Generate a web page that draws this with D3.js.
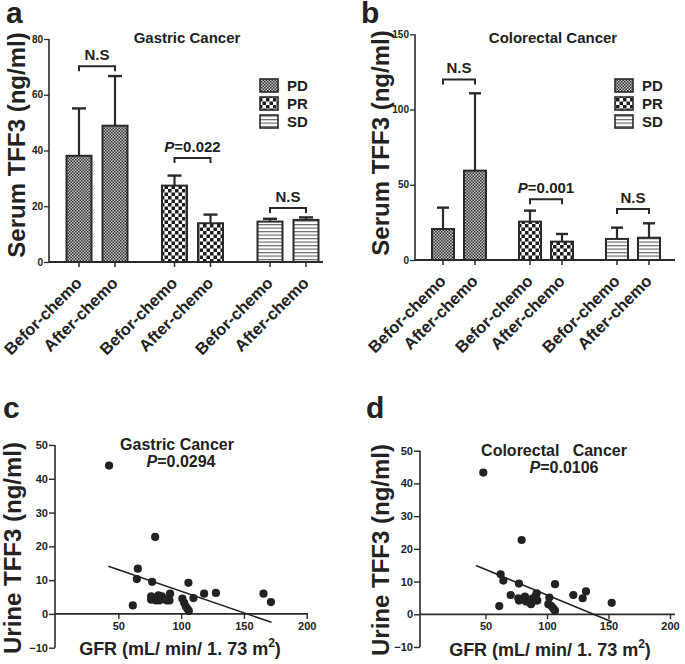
<!DOCTYPE html>
<html><head><meta charset="utf-8">
<script src="https://cdn.jsdelivr.net/npm/d3@7"></script>
<style>
body{margin:0;background:#fff}
text{font-family:Arial,"Liberation Sans",sans-serif;fill:#222}
</style>
</head><body>
<svg id="chart" width="685" height="664"></svg>
<script>
// ---------- DATA ----------
const groups = ["PD", "PR", "SD"];
const times = ["Befor-chemo", "After-chemo"];
const gastricMean = [38.1, 48.9, 27.4, 13.9, 14.5, 15.1];
const gastricSD = [17.0, 17.8, 3.6, 3.1, 1.0, 0.9];
const colorectalMean = [20.6, 59.4, 25.5, 12.2, 14.0, 14.8];
const colorectalSD = [14.2, 51.4, 7.3, 5.1, 7.5, 9.6];
const gastricYTicks = [0, 20, 40, 60, 80];
const colorectalYTicks = [0, 50, 100, 150];
const gastricBrackets = [
  {group: "PD", y: 70.2, label: "N.S"},
  {group: "PR", y: 37.3, label: "P=0.022"},
  {group: "SD", y: 19.4, label: "N.S"}
];
const colorectalBrackets = [
  {group: "PD", y: 120, label: "N.S"},
  {group: "PR", y: 40.3, label: "P=0.001"},
  {group: "SD", y: 33.9, label: "N.S"}
];

const gastricGFR = [42.6, 79.3, 65.5, 64.7, 76.9, 105.8, 61.5, 76.1, 76.1, 79.3, 81.9, 82.7, 85.9, 88.6, 91.2, 90.7, 101, 102.4, 103.7, 105, 106.1, 109.8, 118.3, 127.7, 165.6, 171.5, 80, 84.6];
const gastricTFF3 = [43.9, 22.8, 13.4, 10.3, 9.5, 9.2, 2.5, 5.2, 4.2, 4.5, 5.5, 4.0, 4.5, 4.0, 6.0, 4.0, 4.5, 3.3, 2.2, 1.5, 0.9, 4.7, 6.0, 6.2, 6.0, 3.5, 4.0, 5.2];
const gastricFitX = [42, 172];
const gastricFitY = [14.1, -2.5];

const colorectalGFR = [48.2, 79.4, 62.3, 64.5, 77.2, 106.5, 61.2, 70.5, 76.7, 77.2, 82.1, 82.9, 87, 88.4, 91, 92.1, 90.2, 101.9, 101.1, 103.3, 105.1, 106.5, 121.4, 129, 131.7, 152.6, 91.6];
const colorectalTFF3 = [43.3, 22.7, 12.2, 10.3, 9.4, 9.2, 2.5, 5.9, 4.9, 4.2, 5.4, 3.9, 3.1, 4.9, 5.7, 4.2, 4.2, 5.1, 3.1, 2.6, 1.8, 1.1, 5.9, 4.9, 7.0, 3.5, 6.4];
const colorectalFitX = [42.3, 152.6];
const colorectalFitY = [14.9, -2.3];

const scatterYTicks = [-10, 0, 10, 20, 30, 40, 50];
const scatterXTicks = [50, 100, 150, 200];

// ---------- SETUP ----------
const svg = d3.select("#chart");
const INK = "#2a2a2a";
const defs = svg.append("defs");
const pd = defs.append("pattern").attr("id", "pat-PD").attr("patternUnits", "userSpaceOnUse").attr("width", 3).attr("height", 3);
pd.append("rect").attr("width", 3).attr("height", 3).attr("fill", "#c4c4c4");
pd.append("rect").attr("width", 1.5).attr("height", 1.5).attr("fill", "#333");
pd.append("rect").attr("x", 1.5).attr("y", 1.5).attr("width", 1.5).attr("height", 1.5).attr("fill", "#333");
const pr = defs.append("pattern").attr("id", "pat-PR").attr("patternUnits", "userSpaceOnUse").attr("width", 7).attr("height", 7);
pr.append("rect").attr("width", 7).attr("height", 7).attr("fill", "#fff");
pr.append("rect").attr("width", 3.5).attr("height", 3.5).attr("fill", "#1e1e1e");
pr.append("rect").attr("x", 3.5).attr("y", 3.5).attr("width", 3.5).attr("height", 3.5).attr("fill", "#1e1e1e");
const sd = defs.append("pattern").attr("id", "pat-SD").attr("patternUnits", "userSpaceOnUse").attr("width", 4).attr("height", 3.5);
sd.append("rect").attr("width", 4).attr("height", 3.5).attr("fill", "#fff");
sd.append("rect").attr("width", 4).attr("height", 1.2).attr("fill", "#6a6a6a");

function addLabel(g, parts, x, y, size, anchor) {
  const t = g.append("text").attr("x", x).attr("y", y).attr("text-anchor", anchor || "middle")
    .attr("font-size", size).attr("font-weight", "bold");
  parts.forEach(p => {
    const s = t.append("tspan").text(p.text);
    if (p.italic) s.attr("font-style", "italic");
  });
  return t;
}
function splitP(label) {
  if (label.startsWith("P=")) return [{text: "P", italic: true}, {text: label.slice(1)}];
  return [{text: label}];
}

// ---------- BAR PANELS ----------
function barPanel(cfg) {
  const g = svg.append("g");
  const y = d3.scaleLinear().domain(cfg.yDomain).range(cfg.yRange);
  const gx = d3.scalePoint().domain(groups).range(cfg.groupRange);
  const tx = d3.scalePoint().domain(times).range([-cfg.inner, cfg.inner]);
  const rows = [];
  groups.forEach((grp, gi) => times.forEach((tm, ti) => {
    const i = gi * 2 + ti;
    rows.push({grp, tm, mean: cfg.mean[i], sd: cfg.sd[i], cx: gx(grp) + tx(tm)});
  }));
  const y0 = y(0);
  rows.forEach(r => {
    g.append("line").attr("x1", r.cx).attr("x2", r.cx).attr("y1", y(r.mean)).attr("y2", y(r.mean + r.sd))
      .attr("stroke", INK).attr("stroke-width", 2.2);
    g.append("line").attr("x1", r.cx - cfg.cap / 2).attr("x2", r.cx + cfg.cap / 2)
      .attr("y1", y(r.mean + r.sd)).attr("y2", y(r.mean + r.sd))
      .attr("stroke", INK).attr("stroke-width", 2.4);
  });
  g.selectAll("rect.bar").data(rows).join("rect").attr("class", "bar")
    .attr("x", d => d.cx - cfg.bw / 2).attr("width", cfg.bw)
    .attr("y", d => y(d.mean)).attr("height", d => y0 - y(d.mean))
    .attr("fill", d => `url(#pat-${d.grp})`).attr("stroke", INK).attr("stroke-width", 2);
  const ya = g.append("g").attr("transform", `translate(${cfg.axisX},0)`)
    .call(d3.axisLeft(y).tickValues(cfg.yTicks).tickSize(5).tickFormat(d3.format("d")));
  ya.select(".domain").remove();
  ya.selectAll(".tick line").attr("stroke", INK).attr("stroke-width", 1.3);
  ya.selectAll(".tick text").attr("font-size", 10).attr("font-weight", "bold").attr("fill", INK).attr("x", -6)
    .style("font-family", "Arial,'Liberation Sans',sans-serif");
  g.append("line").attr("x1", cfg.axisX).attr("x2", cfg.axisX).attr("y1", y0).attr("y2", y(cfg.yDomain[1]))
    .attr("stroke", INK).attr("stroke-width", 1.6);
  g.append("line").attr("x1", cfg.axisX).attr("x2", cfg.axisEnd).attr("y1", y0).attr("y2", y0)
    .attr("stroke", INK).attr("stroke-width", 1.8);
  rows.forEach(r => {
    g.append("line").attr("x1", r.cx).attr("x2", r.cx).attr("y1", y0).attr("y2", y0 + 5)
      .attr("stroke", INK).attr("stroke-width", 1.5);
    g.append("text").attr("transform", `translate(${r.cx + 4},${y0 + 22}) rotate(-45)`)
      .attr("text-anchor", "end").attr("font-size", 16.5).attr("font-weight", "bold").text(r.tm);
  });
  cfg.brackets.forEach(b => {
    const x1 = gx(b.group) + tx(times[0]), x2 = gx(b.group) + tx(times[1]);
    const by = y(b.y);
    g.append("path").attr("d", `M${x1},${by + 5}V${by}H${x2}V${by + 5}`)
      .attr("fill", "none").attr("stroke", INK).attr("stroke-width", 2);
    addLabel(g, splitP(b.label), (x1 + x2) / 2, by - 6, 15);
  });
  addLabel(g, [{text: cfg.title}], cfg.titleX, 43, 15);
  groups.forEach((grp, i) => {
    const ly = cfg.legendY + i * 18;
    g.append("rect").attr("x", cfg.legendX).attr("y", ly).attr("width", 18).attr("height", 13)
      .attr("fill", `url(#pat-${grp})`).attr("stroke", INK).attr("stroke-width", 1.6);
    addLabel(g, [{text: grp}], cfg.legendX + 27, ly + 12, 15, "start");
  });
  g.append("text").attr("transform", `translate(${cfg.ylabX},${cfg.ylabY}) rotate(-90)`)
    .attr("text-anchor", "middle").attr("font-size", 24).attr("font-weight", "bold").text("Serum TFF3 (ng/ml)");
  addLabel(g, [{text: cfg.letter}], cfg.letterX, 23, 30, "start");
}

barPanel({
  mean: gastricMean, sd: gastricSD, yDomain: [0, 80], yRange: [262, 39], yTicks: gastricYTicks,
  groupRange: [97, 288], inner: 18, bw: 25, cap: 14, axisX: 49, axisEnd: 323,
  brackets: gastricBrackets, title: "Gastric Cancer", titleX: 187,
  legendX: 260, legendY: 79, ylabX: 25, ylabY: 145, letter: "a", letterX: 6
});
barPanel({
  mean: colorectalMean, sd: colorectalSD, yDomain: [0, 150], yRange: [260, 34.3], yTicks: colorectalYTicks,
  groupRange: [459, 633], inner: 16, bw: 22, cap: 12, axisX: 415, axisEnd: 675,
  brackets: colorectalBrackets, title: "Colorectal Cancer", titleX: 553,
  legendX: 615, legendY: 79, ylabX: 389, ylabY: 143, letter: "b", letterX: 361
});

// ---------- SCATTER PANELS ----------
function scatterPanel(cfg) {
  const g = svg.append("g");
  const x = d3.scaleLinear().domain([0, 200]).range(cfg.xRange);
  const y = d3.scaleLinear().domain([-10, 50]).range(cfg.yRange);
  const ya = g.append("g").attr("transform", `translate(${cfg.axisX},0)`)
    .call(d3.axisLeft(y).tickValues(scatterYTicks).tickSize(6));
  ya.select(".domain").attr("stroke", INK).attr("stroke-width", 1.6).attr("d", `M0,${y(50)}V${y(-10)}`);
  ya.selectAll(".tick line").attr("stroke", INK).attr("stroke-width", 1.4);
  ya.selectAll(".tick text").attr("font-size", 11).attr("font-weight", "bold").attr("fill", INK).attr("x", -7)
    .style("font-family", "Arial,'Liberation Sans',sans-serif");
  const xa = g.append("g").attr("transform", `translate(0,${y(0)})`)
    .call(d3.axisBottom(x).tickValues(scatterXTicks).tickSize(5));
  xa.select(".domain").attr("stroke", INK).attr("stroke-width", 1.8).attr("d", `M${cfg.axisX},0H${cfg.axisEnd}`);
  xa.selectAll(".tick line").attr("stroke", INK).attr("stroke-width", 1.4);
  xa.selectAll(".tick text").attr("font-size", 11).attr("font-weight", "bold").attr("fill", INK).attr("y", 8)
    .style("font-family", "Arial,'Liberation Sans',sans-serif");
  g.selectAll("circle").data(cfg.xs.map((v, i) => [v, cfg.ys[i]])).join("circle")
    .attr("cx", d => x(d[0])).attr("cy", d => y(d[1])).attr("r", 4.1).attr("fill", "#222");
  g.append("line").attr("x1", x(cfg.fitX[0])).attr("y1", y(cfg.fitY[0]))
    .attr("x2", x(cfg.fitX[1])).attr("y2", y(cfg.fitY[1])).attr("stroke", "#222").attr("stroke-width", 1.6);
  addLabel(g, [{text: cfg.title}], cfg.titleX, cfg.titleY, 16).style("white-space", "pre");
  addLabel(g, splitP(cfg.p), cfg.pX, cfg.titleY + 17, 16);
  g.append("text").attr("transform", `translate(${cfg.ylabX},${cfg.ylabY}) rotate(-90)`)
    .attr("text-anchor", "middle").attr("font-size", 24).attr("font-weight", "bold").text("Urine TFF3 (ng/ml)");
  const xt = g.append("text").attr("x", cfg.xlabX).attr("y", cfg.xlabY).attr("text-anchor", "middle")
    .attr("font-size", 18).attr("font-weight", "bold");
  xt.append("tspan").text("GFR (mL/ min/ 1. 73 m");
  xt.append("tspan").text("2").attr("font-size", 12).attr("dy", -8);
  xt.append("tspan").text(")").attr("dy", 8);
  addLabel(g, [{text: cfg.letter}], cfg.letterX, 418, 30, "start");
}

scatterPanel({
  xs: gastricGFR, ys: gastricTFF3, fitX: gastricFitX, fitY: gastricFitY,
  xRange: [55.6, 306.7], yRange: [647.7, 445], axisX: 55, axisEnd: 308,
  title: "Gastric Cancer", titleX: 177, titleY: 450, p: "P=0.0294", pX: 181,
  ylabX: 21, ylabY: 548, xlabX: 180, xlabY: 655, letter: "c", letterX: 3
});
scatterPanel({
  xs: colorectalGFR, ys: colorectalTFF3, fitX: colorectalFitX, fitY: colorectalFitY,
  xRange: [424, 670], yRange: [647, 450.7], axisX: 420, axisEnd: 675,
  title: "Colorectal   Cancer", titleX: 554, titleY: 456, p: "P=0.0106", pX: 564,
  ylabX: 389, ylabY: 550, xlabX: 550, xlabY: 656, letter: "d", letterX: 366
});
</script>
</body></html>
